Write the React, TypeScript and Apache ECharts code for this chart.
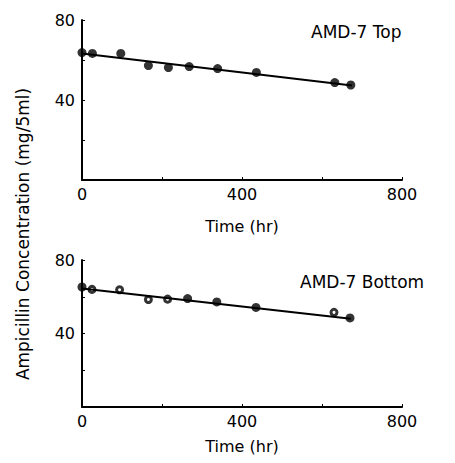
import React, { useEffect, useRef } from "react";
import * as echarts from "echarts";

const topTimes = [0, 26, 97, 166, 216, 268, 339, 436, 632, 672];
const topValues = [63.7, 63.3, 63.3, 57.2, 56.2, 56.7, 55.7, 53.8, 48.7, 47.5];
const topFitTimes = [0, 675];
const topFitValues = [63.3, 47.2];

const botTimes = [0, 25, 94, 166, 214, 264, 337, 435, 630, 670];
const botValues = [65.3, 64.0, 63.8, 58.5, 58.7, 59.0, 57.2, 54.2, 51.5, 48.5];
const botOpen = [false, true, true, true, true, false, false, false, true, false];
const botFitTimes = [0, 672];
const botFitValues = [64.5, 48.0];

const xTickLabels = ["0", "400", "800"];
const yTickLabels = ["40", "80"];
const panelTitles = ["AMD-7 Top", "AMD-7 Bottom"];
const xAxisTitle = "Time (hr)";
const yAxisTitle = "Ampicillin Concentration (mg/5ml)";

const FONT = "DejaVu Sans";

export default function App() {
  const ref = useRef<HTMLDivElement>(null);
  useEffect(() => {
    if (!ref.current) return;
    const chart = echarts.init(ref.current, undefined, { renderer: "svg" });
    const mkX = (gi: number, gap: number) => ({
      type: "value",
      gridIndex: gi,
      min: 0,
      max: 800,
      interval: 200,
      name: xAxisTitle,
      nameLocation: "middle",
      nameGap: gap,
      nameTextStyle: { color: "#000", fontFamily: FONT, fontSize: 16 },
      axisLine: { show: true, lineStyle: { color: "#000", width: 2 } },
      axisTick: { show: true, inside: true, length: 3, lineStyle: { color: "#000", width: 1 } },
      axisLabel: {
        color: "#000",
        fontFamily: FONT,
        fontSize: 16,
        margin: 6,
        formatter: (v: number) => (xTickLabels.includes(String(v)) ? String(v) : ""),
      },
      splitLine: { show: false },
    });
    const mkY = (gi: number) => ({
      type: "value",
      gridIndex: gi,
      min: 0,
      max: 80,
      interval: 20,
      axisLine: { show: true, lineStyle: { color: "#000", width: 2 } },
      axisTick: { show: true, inside: true, length: 3, lineStyle: { color: "#000", width: 1 } },
      axisLabel: {
        color: "#000",
        fontFamily: FONT,
        fontSize: 16,
        margin: 7,
        formatter: (v: number) => (yTickLabels.includes(String(v)) ? String(v) : ""),
      },
      splitLine: { show: false },
    });
    const pair = (xs: number[], ys: number[]) => xs.map((x, i) => [x, ys[i]]);
    const titleStyle = { color: "#000", fontFamily: FONT, fontSize: 17, fontWeight: "normal" };
    const option = {
      animation: false,
      backgroundColor: "#fff",
      title: [
        { text: panelTitles[0], left: 303, top: 15, padding: 0, textStyle: titleStyle },
        { text: panelTitles[1], left: 292, top: 265, padding: 0, textStyle: titleStyle },
      ],
      grid: [
        { left: 74, top: 12, width: 320, height: 160 },
        { left: 74, top: 252, width: 320, height: 160 },
      ],
      xAxis: [mkX(0, 38), mkX(1, 31)],
      yAxis: [mkY(0), mkY(1)],
      graphic: [
        {
          type: "text",
          x: 15,
          y: 226,
          rotation: Math.PI / 2,
          style: {
            text: yAxisTitle,
            fill: "#000",
            font: `17px "${FONT}"`,
            textAlign: "center",
            textVerticalAlign: "middle",
          },
        },
      ],
      series: [
        {
          type: "line",
          xAxisIndex: 0,
          yAxisIndex: 0,
          data: pair(topFitTimes, topFitValues),
          showSymbol: false,
          symbol: "none",
          lineStyle: { color: "#000", width: 2 },
        },
        {
          type: "scatter",
          xAxisIndex: 0,
          yAxisIndex: 0,
          data: pair(topTimes, topValues),
          symbol: "circle",
          symbolSize: 9,
          itemStyle: { color: "#000" },
        },
        {
          type: "line",
          xAxisIndex: 1,
          yAxisIndex: 1,
          data: pair(botFitTimes, botFitValues),
          showSymbol: false,
          symbol: "none",
          lineStyle: { color: "#000", width: 2 },
        },
        {
          type: "scatter",
          xAxisIndex: 1,
          yAxisIndex: 1,
          data: botTimes.map((t, i) => ({
            value: [t, botValues[i]],
            symbol: "circle",
            symbolSize: botOpen[i] ? 6 : 9,
            itemStyle: botOpen[i]
              ? { color: "#fff", borderColor: "#000", borderWidth: 3 }
              : { color: "#000", borderWidth: 0 },
          })),
        },
      ],
    };
    chart.setOption(option as any);
    return () => chart.dispose();
  }, []);
  return <div ref={ref} style={{ width: 439, height: 447 }} />;
}
